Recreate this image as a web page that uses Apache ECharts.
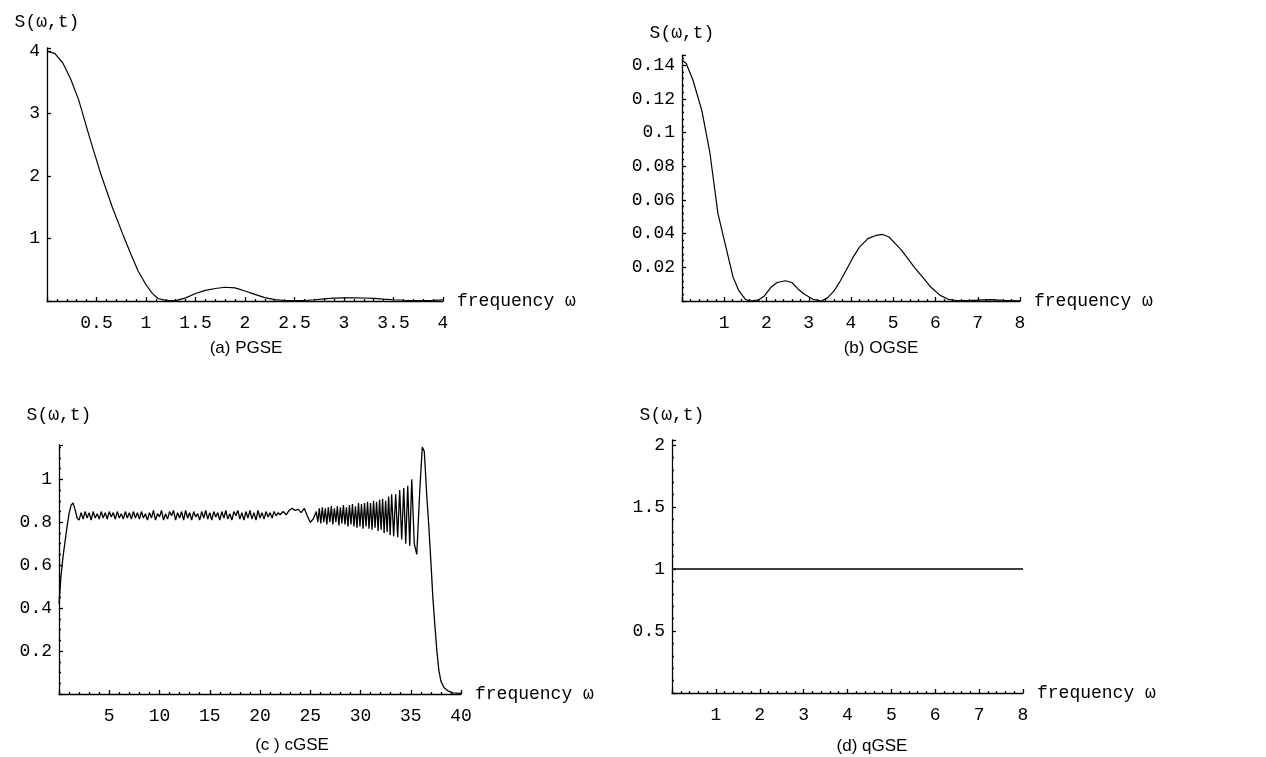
<!DOCTYPE html>
<html>
<head>
<meta charset="utf-8">
<script src="https://cdn.jsdelivr.net/npm/echarts@6/dist/echarts.min.js"></script>
<style>html,body{margin:0;padding:0;background:#fff;}#c{width:1266px;height:757px;}</style>
</head>
<body>
<div id="c"></div>
<script>
// ---- data ----
var pgse = [[0,4.0],[0.08,3.96],[0.16,3.81],[0.24,3.55],[0.32,3.22],[0.43,2.62],[0.54,2.05],[0.66,1.5],[0.77,1.05],[0.85,0.74],[0.92,0.48],[1.0,0.26],[1.06,0.13],[1.12,0.04],[1.2,0.01],[1.3,0.005],[1.4,0.05],[1.5,0.12],[1.6,0.17],[1.7,0.2],[1.8,0.22],[1.9,0.21],[2.0,0.16],[2.1,0.105],[2.2,0.055],[2.3,0.022],[2.4,0.008],[2.5,0.005],[2.6,0.008],[2.7,0.02],[2.8,0.035],[2.9,0.045],[3.0,0.05],[3.1,0.05],[3.2,0.048],[3.3,0.042],[3.4,0.03],[3.5,0.02],[3.6,0.012],[3.7,0.006],[3.8,0.005],[3.9,0.01],[4.0,0.02]];

var ogse = [[0,0.143],[0.1,0.141],[0.26,0.131],[0.47,0.113],[0.66,0.088],[0.85,0.052],[1.02,0.034],[1.21,0.014],[1.35,0.006],[1.5,0.001],[1.6,0],[1.8,0.0005],[1.95,0.003],[2.1,0.008],[2.25,0.011],[2.45,0.012],[2.6,0.011],[2.75,0.007],[2.9,0.004],[3.1,0.001],[3.3,0],[3.45,0.002],[3.6,0.006],[3.75,0.012],[3.9,0.019],[4.05,0.026],[4.2,0.032],[4.4,0.037],[4.6,0.039],[4.75,0.0395],[4.9,0.038],[5.05,0.034],[5.2,0.030],[5.35,0.025],[5.5,0.020],[5.7,0.014],[5.9,0.008],[6.1,0.0035],[6.3,0.001],[6.5,0.0003],[6.8,0.0002],[7.0,0.0005],[7.3,0.0008],[7.6,0.0004],[8.0,0.0001]];

var cgse = [[0,0.42],[0.2,0.55],[0.4,0.64],[0.6,0.71],[0.8,0.78],[1.0,0.84],[1.2,0.88],[1.4,0.89],[1.6,0.86],[1.8,0.82],
[2.0,0.81],[2.2,0.845],[2.4,0.815],[2.6,0.85],[2.8,0.82],[3.0,0.845],[3.2,0.81],[3.4,0.85],[3.6,0.82],[3.8,0.84],[4.0,0.815],[4.2,0.85],[4.4,0.82],[4.6,0.845],[4.8,0.815],[5.0,0.85],[5.2,0.825],[5.4,0.845],[5.6,0.815],[5.8,0.85],[6.0,0.82],[6.2,0.84],[6.4,0.815],[6.6,0.85],[6.8,0.82],[7.0,0.845],[7.2,0.815],[7.4,0.85],[7.6,0.82],[7.8,0.845],[8.0,0.815],[8.2,0.85],[8.4,0.82],[8.6,0.84],[8.8,0.81],[9.0,0.845],[9.2,0.82],[9.4,0.855],[9.6,0.81],[9.8,0.84],[10.0,0.825],[10.2,0.855],[10.4,0.81],[10.6,0.84],[10.8,0.815],[11.0,0.85],[11.2,0.83],[11.4,0.855],[11.6,0.81],[11.8,0.845],[12.0,0.82],[12.2,0.85],[12.4,0.81],[12.6,0.855],[12.8,0.82],[13.0,0.845],[13.2,0.81],[13.4,0.85],[13.6,0.825],[13.8,0.84],[14.0,0.81],[14.2,0.85],[14.4,0.82],[14.6,0.855],[14.8,0.815],[15.0,0.845],[15.2,0.81],[15.4,0.85],[15.6,0.825],[15.8,0.845],[16.0,0.81],[16.2,0.85],[16.4,0.82],[16.6,0.855],[16.8,0.815],[17.0,0.84],[17.2,0.81],[17.4,0.85],[17.6,0.83],[17.8,0.855],[18.0,0.815],[18.2,0.845],[18.4,0.81],[18.6,0.85],[18.8,0.82],[19.0,0.855],[19.2,0.815],[19.4,0.845],[19.6,0.81],[19.8,0.855],[20.0,0.82],[20.2,0.845],[20.4,0.815],[20.6,0.85],[20.8,0.825],[21.0,0.845],[21.2,0.82],[21.4,0.85],[21.6,0.83],[21.8,0.845],[22.0,0.835],
[22.3,0.85],[22.6,0.835],[22.9,0.855],[23.2,0.865],[23.5,0.855],[23.8,0.86],[24.1,0.845],[24.4,0.865],[24.7,0.83],[25.0,0.80],[25.3,0.815],[25.6,0.85],
[25.75,0.80],[25.9,0.865],[26.05,0.795],[26.2,0.87],[26.35,0.80],[26.5,0.865],[26.65,0.79],[26.8,0.87],[26.95,0.80],[27.1,0.875],[27.25,0.79],[27.4,0.865],[27.55,0.80],[27.7,0.875],[27.85,0.785],[28.0,0.87],[28.15,0.795],[28.3,0.88],[28.45,0.79],[28.6,0.87],[28.75,0.78],[28.9,0.88],[29.05,0.79],[29.2,0.885],[29.35,0.78],[29.5,0.875],[29.65,0.775],[29.8,0.89],[29.95,0.78],[30.1,0.885],[30.25,0.77],[30.4,0.89],[30.55,0.78],[30.7,0.895],[30.85,0.77],[31.0,0.89],[31.15,0.765],[31.3,0.90],[31.45,0.775],[31.6,0.895],[31.75,0.76],[31.9,0.905],[32.05,0.765],[32.2,0.91],[32.35,0.75],[32.5,0.90],[32.65,0.755],[32.8,0.92],[32.95,0.74],[33.1,0.93],[33.3,0.735],[33.5,0.93],[33.7,0.73],[33.9,0.95],[34.1,0.72],[34.3,0.96],[34.5,0.70],[34.7,0.97],[34.9,0.69],[35.1,1.00],[35.35,0.70],[35.6,0.65],[35.9,0.95],[36.15,1.15],[36.35,1.13],[36.6,0.92],[36.8,0.78],[37.0,0.62],[37.2,0.45],[37.4,0.32],[37.6,0.2],[37.8,0.11],[38.0,0.06],[38.3,0.03],[38.7,0.015],[39.2,0.005],[40.0,0.003]];

var qgse = [[0,1],[2,1],[4,1],[6,1],[8,1]];

var captions = ['(a) PGSE','(b) OGSE','(c ) cGSE','(d) qGSE'];
var yName = 'S(ω,t)';
var xName = 'frequency ω';

// ---- chart ----
var MONO = '"Liberation Mono", "DejaVu Sans Mono", monospace';
var SANS = '17px "Liberation Sans", Arial, sans-serif';
function fmt(step){
  return function(v){
    if (Math.abs(v) < 1e-9) return '';
    var k = v/step;
    if (Math.abs(k - Math.round(k)) > 1e-6) return '';
    return String(parseFloat(v.toFixed(4)));
  };
}
function xAx(i, max, step, minor){
  return {type:'value', gridIndex:i, min:0, max:max, interval:step,
    name:xName, nameLocation:'end', nameGap:14,
    nameTextStyle:{fontFamily:MONO, fontSize:18, color:'#000', align:'left', verticalAlign:'middle'},
    axisLine:{show:true, onZero:false, lineStyle:{color:'#000', width:1.3}},
    axisTick:{show:true, inside:true, length:4, lineStyle:{color:'#000', width:1.3}},
    minorTick:{show:true, splitNumber:minor, length:2, lineStyle:{color:'#000', width:1.3}},
    splitLine:{show:false},
    axisLabel:{fontFamily:MONO, fontSize:18, color:'#000', margin:13, formatter:fmt(step), showMinLabel:true, showMaxLabel:true}
  };
}
function yAx(i, max, step, minor, gap){
  return {type:'value', gridIndex:i, min:0, max:max, interval:step,
    name:yName, nameLocation:'end', nameGap:gap,
    nameTextStyle:{fontFamily:MONO, fontSize:18, color:'#000'},
    axisLine:{show:true, onZero:false, lineStyle:{color:'#000', width:1.3}},
    axisTick:{show:true, inside:true, length:4, lineStyle:{color:'#000', width:1.3}},
    minorTick:{show:minor>0, splitNumber:minor||5, length:2, lineStyle:{color:'#000', width:1.3}},
    splitLine:{show:false},
    axisLabel:{fontFamily:MONO, fontSize:18, color:'#000', margin:7, formatter:fmt(step)}
  };
}
function ser(i, data, w){
  return {type:'line', xAxisIndex:i, yAxisIndex:i, data:data, showSymbol:false, symbol:'none',
    smooth:false, lineStyle:{color:'#000', width:w||1.2}, animation:false};
}
function cap(txt, x, y){
  return {type:'text', x:x, y:y, style:{text:txt, font:SANS, fill:'#000', align:'center', verticalAlign:'middle', textAlign:'center', textVerticalAlign:'middle'}};
}
var chart = echarts.init(document.getElementById('c'), null, {renderer:'canvas'});
chart.setOption({
  backgroundColor:'#fff',
  animation:false,
  grid:[
    {left:47, top:48, width:396, height:253},
    {left:682, top:55, width:338, height:246},
    {left:59, top:445, width:402, height:249},
    {left:672, top:440, width:351, height:253}
  ],
  xAxis:[xAx(0,4,0.5,5), xAx(1,8,1,5), xAx(2,40,5,5), xAx(3,8,1,5)],
  yAxis:[yAx(0,4.05,1,0,17), yAx(1,0.146,0.02,5,13), yAx(2,1.16,0.2,4,21), yAx(3,2.04,0.5,5,16)],
  series:[ser(0,pgse), ser(1,ogse), ser(2,cgse,1.3), ser(3,qgse,1.6)],
  graphic:[
    cap(captions[0], 246, 348),
    cap(captions[1], 881, 348),
    cap(captions[2], 292, 745),
    cap(captions[3], 872, 746)
  ]
});
</script>
</body>
</html>
